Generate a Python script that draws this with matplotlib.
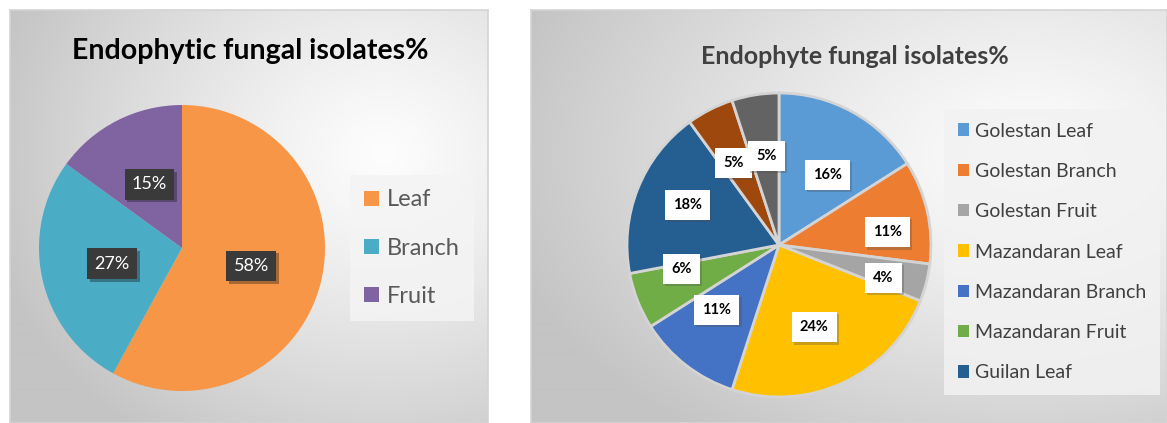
import numpy as np
import matplotlib
matplotlib.use('Agg')
import matplotlib.pyplot as plt
from matplotlib.patches import Patch
import matplotlib.patheffects as pe

plt.rcParams['font.family'] = ['Lato', 'DejaVu Sans']

# ========================
# data
# ========================
left_title = "Endophytic fungal isolates%"
left_labels = ["Leaf", "Branch", "Fruit"]
left_values = [58, 27, 15]
left_colors = ["#F79646", "#4BACC6", "#8064A2"]

right_title = "Endophyte fungal isolates%"
right_labels = ["Golestan Leaf", "Golestan Branch", "Golestan Fruit",
                "Mazandaran Leaf", "Mazandaran Branch", "Mazandaran Fruit",
                "Guilan Leaf", "Guilan Branch", "Guilan Fruit"]
right_values = [16, 11, 4, 24, 11, 6, 18, 5, 5]
right_colors = ["#5B9BD5", "#ED7D31", "#A5A5A5", "#FFC000", "#4472C4",
                "#70AD47", "#255E91", "#9E480E", "#636363"]
n_legend_right = 7   # legend is cut off after Guilan Leaf

# label placement: radius factor and angle nudge (deg)
right_lbl_r = [0.56, 0.72, 0.72, 0.59, 0.59, 0.66, 0.66, 0.62, 0.59]
right_lbl_da = [-6, -6, -3, -2, -6, -8, -2, 2, -1]

W, H = 1167, 423
fig = plt.figure(figsize=(W / 100, H / 100), dpi=100)
fig.patch.set_facecolor("white")


def px_axes(x0, y0, x1, y1, **kw):
    """axes from pixel box (top-left origin)"""
    return fig.add_axes([x0 / W, 1 - y1 / H, (x1 - x0) / W, (y1 - y0) / H], **kw)


def panel(x0, y0, x1, y1, cx, cy, c_in, c_out):
    ax = px_axes(x0, y0, x1, y1)
    w, h = int(x1 - x0), int(y1 - y0)
    yy, xx = np.mgrid[0:h, 0:w]
    d = np.hypot((xx - cx * w) / w, (yy - cy * h) / h)
    d = np.clip(d / 0.85, 0, 1) ** 1.2
    c_in = np.array(matplotlib.colors.to_rgb(c_in))
    c_out = np.array(matplotlib.colors.to_rgb(c_out))
    img = c_in[None, None, :] * (1 - d[..., None]) + c_out[None, None, :] * d[..., None]
    ax.imshow(img, aspect="auto", extent=(0, 1, 0, 1))
    ax.set_xticks([])
    ax.set_yticks([])
    for s in ax.spines.values():
        s.set_color("#D4D4D4")
        s.set_linewidth(1.2)
    ax.set_zorder(0)
    return ax


# backgrounds
panel(10, 10, 488, 423, 0.78, 0.35, "#FDFDFD", "#C4C4C4")
panel(531, 10, 1167, 423, 0.78, 0.35, "#FDFDFD", "#C4C4C4")

# ========================
# left pie
# ========================
cx, cy, r = 182, 248, 143
ax1 = px_axes(cx - r * 1.05, cy - r * 1.05, cx + r * 1.05, cy + r * 1.05)
ax1.set_zorder(2)
wedges1, _ = ax1.pie(left_values, colors=left_colors, startangle=90,
                     counterclock=False, radius=1, wedgeprops=dict(linewidth=0))
ax1.set_xlim(-1.05, 1.05)
ax1.set_ylim(-1.05, 1.05)
ax1.set_aspect("auto")
ax1.axis("off")

for w, v in zip(wedges1, left_values):
    ang = np.deg2rad((w.theta1 + w.theta2) / 2)
    t = ax1.text(0.5 * np.cos(ang), 0.5 * np.sin(ang), f"{v}%", ha="center", va="center",
                 fontsize=13, color="white",
                 bbox=dict(boxstyle="square,pad=0.4", fc="#3A3A3A", ec="none"))
    t.get_bbox_patch().set_path_effects([
        pe.SimplePatchShadow(offset=(2, -2), alpha=0.35), pe.Normal()])

fig.text(250 / W, 1 - 51 / H, left_title, ha="center", va="center",
         fontsize=20.5, fontweight="bold", color="black")

leg1 = fig.legend([Patch(facecolor=c) for c in left_colors], left_labels,
                  loc="center", bbox_to_anchor=(412 / W, 1 - 248 / H),
                  fontsize=17, labelcolor="#595959", frameon=True, fancybox=False,
                  handlelength=0.6, handleheight=0.6, handletextpad=0.35,
                  labelspacing=1.15, borderpad=0.6)
leg1.get_frame().set_facecolor("#F4F4F4")
leg1.get_frame().set_edgecolor("none")
leg1.get_frame().set_alpha(0.85)

# ========================
# right pie
# ========================
cx, cy, r = 779, 245, 152
ax2 = px_axes(cx - r * 1.05, cy - r * 1.05, cx + r * 1.05, cy + r * 1.05)
ax2.set_zorder(2)
wedges2, _ = ax2.pie(right_values, colors=right_colors, startangle=90,
                     counterclock=False, radius=1,
                     wedgeprops=dict(linewidth=2, edgecolor="#D4D4D4"))
ax2.set_xlim(-1.05, 1.05)
ax2.set_ylim(-1.05, 1.05)
ax2.set_aspect("auto")
ax2.axis("off")

for w, v, rf, da in zip(wedges2, right_values, right_lbl_r, right_lbl_da):
    ang = np.deg2rad((w.theta1 + w.theta2) / 2 + da)
    t = ax2.text(rf * np.cos(ang), rf * np.sin(ang), f"{v}%", ha="center", va="center",
                 fontsize=10.5, fontweight="bold", color="black",
                 bbox=dict(boxstyle="square,pad=0.55", fc="white", ec="none"))
    t.get_bbox_patch().set_path_effects([
        pe.SimplePatchShadow(offset=(1.5, -1.5), alpha=0.3), pe.Normal()])

fig.text(855 / W, 1 - 57 / H, right_title, ha="center", va="center",
         fontsize=18, fontweight="bold", color="#404040")

leg2 = fig.legend([Patch(facecolor=c) for c in right_colors[:n_legend_right]],
                  right_labels[:n_legend_right],
                  loc="center", bbox_to_anchor=(1052 / W, 1 - 252 / H),
                  fontsize=14, labelcolor="#404040", frameon=True, fancybox=False,
                  handlelength=0.6, handleheight=0.6, handletextpad=0.3,
                  labelspacing=1.2, borderpad=0.7)
leg2.get_frame().set_facecolor("#F2F2F2")
leg2.get_frame().set_edgecolor("none")
leg2.get_frame().set_alpha(0.85)

plt.savefig("out.png", dpi=100)
plt.close()
